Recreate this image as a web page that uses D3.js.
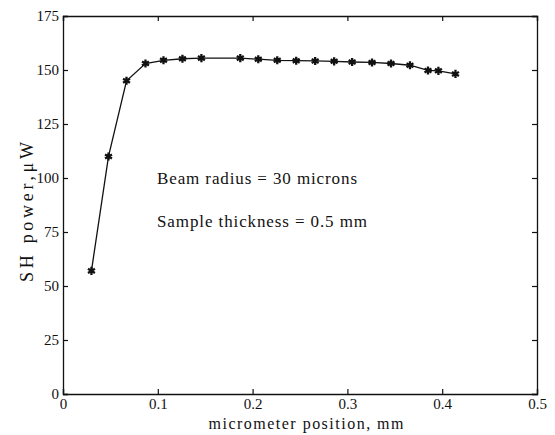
<!DOCTYPE html>
<html>
<head>
<meta charset="utf-8">
<script src="https://cdn.jsdelivr.net/npm/d3@7"></script>
<style>
  body { margin: 0; background: #fff; }
  text { font-family: "Liberation Serif", "DejaVu Serif", serif; fill: #111; }
</style>
</head>
<body>
<svg id="chart" width="555" height="435"></svg>
<script>
// micrometer position (mm) and SH power (uW)
let positions = [0.03, 0.048, 0.067, 0.087, 0.106, 0.126, 0.146, 0.187, 0.206, 0.226,
                 0.246, 0.266, 0.286, 0.305, 0.326, 0.346, 0.366, 0.385, 0.396, 0.414]
let power = [57, 110, 145, 153, 154.5, 155.2, 155.5, 155.5, 155, 154.5,
             154.3, 154.2, 154, 153.7, 153.5, 153, 152.2, 149.8, 149.6, 148.2]
let xTicks = [0, 0.1, 0.2, 0.3, 0.4, 0.5]
let yTicks = [0, 25, 50, 75, 100, 125, 150, 175]
let notes = ["Beam radius = 30 microns", "Sample thickness = 0.5 mm"]

let svg = d3.select("#chart")
let m = {left: 63, right: 537, top: 16, bottom: 394}

let xScale = d3.scaleLinear().domain([0, 0.5]).range([m.left, m.right])
let yScale = d3.scaleLinear().domain([0, 175]).range([m.bottom, m.top])

let data = positions.map((d, i) => ({x: d, y: power[i]}))

// ticks pointing inward on all four sides
let axes = [
    {a: d3.axisBottom(xScale).tickValues(xTicks).tickSize(-5).tickFormat(d => d === 0 ? "0" : d3.format(".1f")(d)), t: `translate(0,${m.bottom})`, cls: "xb"},
    {a: d3.axisTop(xScale).tickValues(xTicks).tickSize(-5).tickFormat(""), t: `translate(0,${m.top})`, cls: "xt"},
    {a: d3.axisLeft(yScale).tickValues(yTicks).tickSize(-5).tickFormat(d3.format("d")), t: `translate(${m.left},0)`, cls: "yl"},
    {a: d3.axisRight(yScale).tickValues(yTicks).tickSize(-5).tickFormat(""), t: `translate(${m.right},0)`, cls: "yr"}
]
axes.forEach(d => {
    let g = svg.append("g").attr("class", d.cls).attr("transform", d.t).call(d.a)
    g.select(".domain").attr("stroke", "#111").attr("stroke-width", 1.3)
    g.selectAll(".tick line").attr("stroke", "#111").attr("stroke-width", 1.2)
    g.selectAll(".tick text").attr("font-size", 15).attr("font-family", "Liberation Serif").attr("fill", "#111")
})
svg.select(".xb").selectAll(".tick text").attr("y", 4)
svg.select(".yl").selectAll(".tick text").attr("x", -4)

let line = d3.line().x(d => xScale(d.x)).y(d => yScale(d.y))

svg.append("path")
    .datum(data)
    .attr("d", line)
    .attr("fill", "none")
    .attr("stroke", "#111")
    .attr("stroke-width", 1.3)

let star = d3.symbol().type(d3.symbolAsterisk).size(45)
svg.selectAll(".pt")
    .data(data)
    .enter()
    .append("path")
        .attr("class", "pt")
        .attr("transform", d => `translate(${xScale(d.x)},${yScale(d.y)})`)
        .attr("d", star)
        .attr("fill", "none")
        .attr("stroke", "#111")
        .attr("stroke-width", 2.3)

let noteLen = [200, 210]
svg.selectAll(".note")
    .data(notes)
    .enter()
    .append("text")
        .attr("class", "note")
        .attr("x", 157)
        .attr("y", (d, i) => 184 + i * 43)
        .attr("font-size", 17)
        .attr("textLength", (d, i) => noteLen[i])
        .attr("lengthAdjust", "spacing")
        .text(d => d)

svg.append("text")
    .attr("x", 306)
    .attr("y", 429)
    .attr("text-anchor", "middle")
    .attr("font-size", 16)
    .attr("textLength", 195)
    .attr("lengthAdjust", "spacing")
    .text("micrometer position, mm")

svg.append("text")
    .attr("transform", `translate(33,212) rotate(-90)`)
    .attr("text-anchor", "middle")
    .attr("font-size", 18)
    .attr("textLength", 140)
    .attr("lengthAdjust", "spacing")
    .text("SH power,\u03bcW")
</script>
</body>
</html>
